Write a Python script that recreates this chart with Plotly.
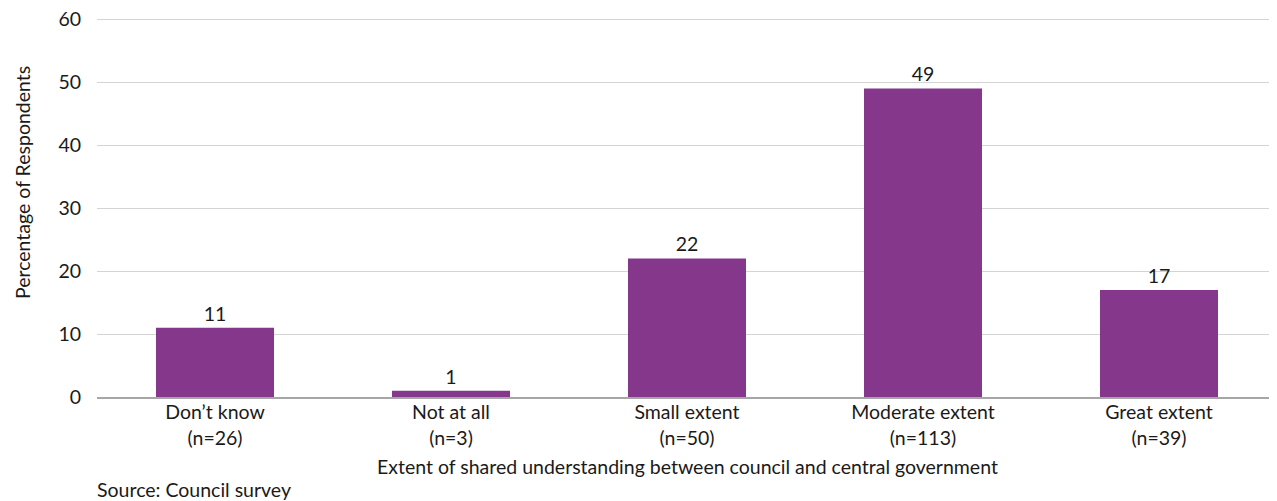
import plotly.graph_objects as go

categories = ["Don’t know", "Not at all", "Small extent", "Moderate extent", "Great extent"]
counts = ["(n=26)", "(n=3)", "(n=50)", "(n=113)", "(n=39)"]
values = [11, 1, 22, 49, 17]
y_ticks = [0, 10, 20, 30, 40, 50, 60]

FONT = "Lato, Open Sans, sans-serif"
FS = 19.5
TXT = "#1a1a1a"

tick_text = [f"{c}<br>{n}" for c, n in zip(categories, counts)]

fig = go.Figure(go.Bar(
    x=categories, y=values,
    marker=dict(color="#84378B", line=dict(width=0)),
    width=0.5,
    text=[str(v) for v in values], textposition="outside",
    textfont=dict(size=FS, color=TXT, family=FONT),
    cliponaxis=False,
))

annotations = [
    dict(text="Extent of shared understanding between council and central government",
         xref="paper", yref="paper", x=0.5, y=0, xanchor="center", yanchor="middle",
         yshift=-69, showarrow=False, font=dict(size=FS)),
    dict(text="Source: Council survey", xref="paper", yref="paper",
         x=0, y=0, xanchor="left", yanchor="middle", yshift=-92, xshift=-2,
         showarrow=False, font=dict(size=FS)),
    dict(text="Percentage of Respondents", xref="paper", yref="paper",
         x=0, y=0, xanchor="center", yanchor="middle", xshift=-75, yshift=214,
         textangle=-90, showarrow=False, font=dict(size=FS)),
]

fig.update_layout(
    width=1269, height=493,
    margin=dict(l=89, r=0, t=8, b=104),
    plot_bgcolor="white", paper_bgcolor="white",
    font=dict(family=FONT, size=FS, color=TXT),
    showlegend=False,
    xaxis=dict(
        showgrid=False, showline=True, linecolor="#A6A6A6", linewidth=2,
        ticks="", tickfont=dict(size=FS), automargin=False, ticklabelstandoff=-3,
        tickmode="array", tickvals=categories, ticktext=tick_text,
    ),
    yaxis=dict(
        range=[0, 60.5], tickvals=y_ticks, showgrid=True, gridcolor="#D4D4D4", gridwidth=1,
        zeroline=False, showline=False, ticks="", ticklabelstandoff=15,
        ticklabeloverflow="allow",
        tickfont=dict(size=FS), automargin=False,
    ),
    annotations=annotations,
)

fig.write_html("out.html")
